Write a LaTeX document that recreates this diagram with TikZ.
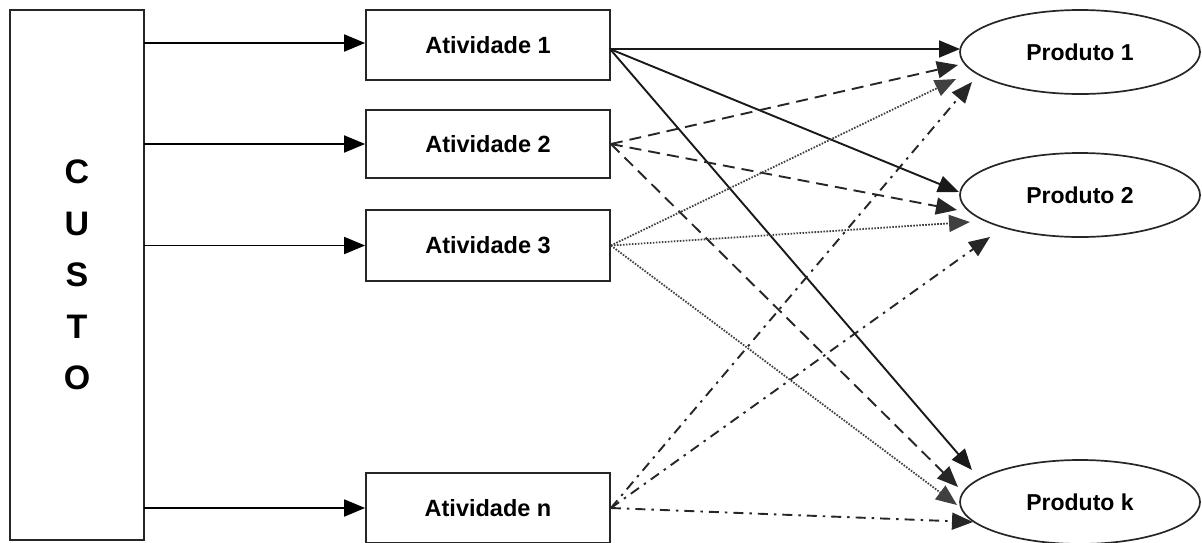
\documentclass[tikz,border=0pt]{standalone}
\usepackage{fontspec}
\setmainfont{Liberation Sans}
\usetikzlibrary{arrows.meta,shapes.geometric}
\tikzset{
  box/.style={draw=black!85,line width=1.8pt,minimum width=244pt,inner sep=0pt,font=\fontsize{23.5}{26}\selectfont\bfseries},
  prod/.style={draw=black!85,ellipse,line width=1.7pt,minimum width=240pt,minimum height=84pt,inner sep=0pt,font=\fontsize{23}{26}\selectfont\bfseries},
  conn/.style={line width=1.9pt,-{Triangle[length=21pt,width=17pt]}},
  dsh/.style={conn,dash pattern=on 12pt off 7pt,black!85},
  dtt/.style={conn,line width=1.8pt,dash pattern=on 1.6pt off 1.4pt,black!75},
  dshdot/.style={conn,dash pattern=on 10pt off 6pt on 2.5pt off 6pt,black!85},
}
\begin{document}
\begin{tikzpicture}[x=1pt,y=-1pt]
\useasboundingbox (0,0) rectangle (1202,542);
\draw[draw=black!85,line width=1.8pt] (10,10) rectangle (144,540);
\node[inner sep=0pt,align=center,font=\fontsize{34}{51.5}\selectfont\bfseries] (custo) at (77,275) {C\\U\\S\\T\\O};
\coordinate (cr) at (144,275);
\node[box,minimum height=70pt] (a1) at (488,45) {Atividade 1};
\node[box,minimum height=68pt] (a2) at (488,144) {Atividade 2};
\node[box,minimum height=71pt] (a3) at (488,245.5) {Atividade 3};
\node[box,minimum height=70pt] (an) at (488,508) {Atividade n};
\node[prod] (p1) at (1080,52) {Produto 1};
\node[prod] (p2) at (1080,195) {Produto 2};
\node[prod] (pk) at (1080,502) {Produto k};
% CUSTO to activities
\draw[conn] (cr |- 0,43) -- (a1.west |- 0,43);
\draw[conn] (cr |- a2) -- (a2.west);
\draw[conn] (cr |- a3) -- (a3.west);
\draw[conn] (cr |- an) -- (an.west);
% start points
\coordinate (s1) at (610,49);
\coordinate (s2) at (a2.east);
\coordinate (s3) at (a3.east);
\coordinate (sn) at (an.east);
% tips
\coordinate (t11) at (960,49);
\coordinate (t21) at (958,65);
\coordinate (t31) at (956,79);
\coordinate (tn1) at (972,82);
\coordinate (t12) at (959,192);
\coordinate (t22) at (957,210);
\coordinate (t32) at (970,222);
\coordinate (tn2) at (990,237);
\coordinate (t1k) at (972,470);
\coordinate (t2k) at (958,487);
\coordinate (t3k) at (957,505);
\coordinate (tnk) at (973,522);
% Atividade 1
\draw[conn,black!90] (s1) -- (t11);
\draw[conn,black!90] (s1) -- (t12);
\draw[conn,black!90] (s1) -- (t1k);
% Atividade 2
\draw[dsh] (s2) -- (t21);
\draw[dsh] (s2) -- (t22);
\draw[dsh] (s2) -- (t2k);
% Atividade 3
\draw[dtt] (s3) -- (t31);
\draw[dtt] (s3) -- (t32);
\draw[dtt] (s3) -- (t3k);
% Atividade n
\draw[dshdot] (sn) -- (tn1);
\draw[dshdot] (sn) -- (tn2);
\draw[dshdot] (sn) -- (tnk);
\end{tikzpicture}
\end{document}
